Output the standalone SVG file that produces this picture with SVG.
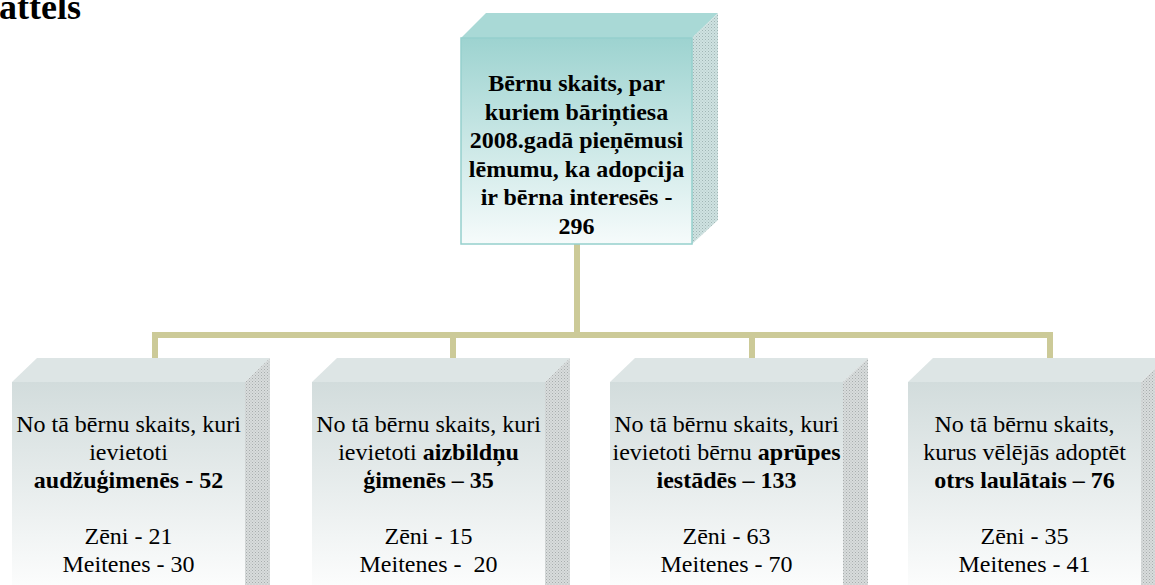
<svg xmlns="http://www.w3.org/2000/svg" width="1155" height="585" viewBox="0 0 1155 585">
<style>
text{font-family:"Liberation Serif","Times New Roman",serif;font-size:24px;fill:#000;text-anchor:middle}
.b{font-weight:bold}
.conn{stroke:#ccca98;stroke-width:6;fill:none}
.topface{fill:#dde5e5}
.front{fill:url(#gGrey)}
.side{fill:url(#dots)}
.tside{fill:url(#tdots)}
.ttop{fill:#a9d9d6}
.tfront{fill:url(#gTeal);stroke:#95d0cd;stroke-width:1.5}
</style>
<defs>
<linearGradient id="gGrey" x1="0" y1="0" x2="0" y2="1">
<stop offset="0" stop-color="#d2dcdc"/>
<stop offset="1" stop-color="#ffffff"/>
</linearGradient>
<linearGradient id="gTeal" x1="0" y1="0" x2="0" y2="1">
<stop offset="0" stop-color="#9dd3d0"/>
<stop offset="1" stop-color="#f6fbfb"/>
</linearGradient>
<pattern id="dots" width="3" height="3" patternUnits="userSpaceOnUse">
<rect width="3" height="3" fill="#d8dcdc"/>
<rect width="1" height="1" fill="#a8adad"/>
<rect x="1.5" y="1.5" width="1" height="1" fill="#b4b8b8"/>
</pattern>
<pattern id="tdots" width="3" height="3" patternUnits="userSpaceOnUse">
<rect width="3" height="3" fill="#cfe2e1"/>
<rect width="1" height="1" fill="#9fb5b4"/>
<rect x="1.5" y="1.5" width="1" height="1" fill="#aec2c1"/>
</pattern>
</defs>
<text class="b" x="-1" y="19" style="font-size:36px;text-anchor:start">attēls</text>
<g id="connectors">
<path class="conn" d="M577 244 V335"/>
<path class="conn" d="M155 358 V335 H1050 V358"/>
<path class="conn" d="M453 335 V358"/>
<path class="conn" d="M752 335 V358"/>
</g>
<g id="node-top">
<polygon class="ttop" points="461,38 486,13 718,13 692,38"/>
<polygon class="tside" points="692,38 718,13 718,220 692,244"/>
<rect class="tfront" x="461" y="38" width="231" height="206"/>
<text class="b" x="576.5" y="91">Bērnu skaits, par</text>
<text class="b" x="576.5" y="119.6">kuriem bāriņtiesa</text>
<text class="b" x="576.5" y="148.2">2008.gadā pieņēmusi</text>
<text class="b" x="576.5" y="176.8">lēmumu, ka adopcija</text>
<text class="b" x="576.5" y="205.4">ir bērna interesēs -</text>
<text class="b" x="576.5" y="234">296</text>
</g>
<g id="node-1">
<polygon class="topface" points="12,382 37,358 270,358 245,382"/>
<polygon class="side" points="245,382 270,358 270,600 245,600"/>
<rect class="front" x="12" y="382" width="233" height="220"/>
<text x="128.5" y="432">No tā bērnu skaits, kuri</text>
<text x="128.5" y="460">ievietoti</text>
<text class="b" x="128.5" y="488">audžuģimenēs - 52</text>
<text x="128.5" y="544">Zēni - 21</text>
<text x="128.5" y="572">Meitenes - 30</text>
</g>
<g id="node-2">
<polygon class="topface" points="312,382 337,358 570,358 545,382"/>
<polygon class="side" points="545,382 570,358 570,600 545,600"/>
<rect class="front" x="312" y="382" width="233" height="220"/>
<text x="428.5" y="432">No tā bērnu skaits, kuri</text>
<text x="428.5" y="460">ievietoti <tspan class="b">aizbildņu</tspan></text>
<text class="b" x="428.5" y="488">ģimenēs – 35</text>
<text x="428.5" y="544">Zēni - 15</text>
<text x="428.5" y="572" xml:space="preserve">Meitenes -  20</text>
</g>
<g id="node-3">
<polygon class="topface" points="610,382 635,358 868,358 843,382"/>
<polygon class="side" points="843,382 868,358 868,600 843,600"/>
<rect class="front" x="610" y="382" width="233" height="220"/>
<text x="726.5" y="432">No tā bērnu skaits, kuri</text>
<text x="726.5" y="460">ievietoti bērnu <tspan class="b">aprūpes</tspan></text>
<text class="b" x="726.5" y="488">iestādēs – 133</text>
<text x="726.5" y="544">Zēni - 63</text>
<text x="726.5" y="572">Meitenes - 70</text>
</g>
<g id="node-4">
<polygon class="topface" points="908,382 933,358 1166,358 1141,382"/>
<polygon class="side" points="1141,382 1166,358 1166,600 1141,600"/>
<rect class="front" x="908" y="382" width="233" height="220"/>
<text x="1024.5" y="432">No tā bērnu skaits,</text>
<text x="1024.5" y="460">kurus vēlējās adoptēt</text>
<text class="b" x="1024.5" y="488">otrs laulātais – 76</text>
<text x="1024.5" y="544">Zēni - 35</text>
<text x="1024.5" y="572">Meitenes - 41</text>
</g>
</svg>
